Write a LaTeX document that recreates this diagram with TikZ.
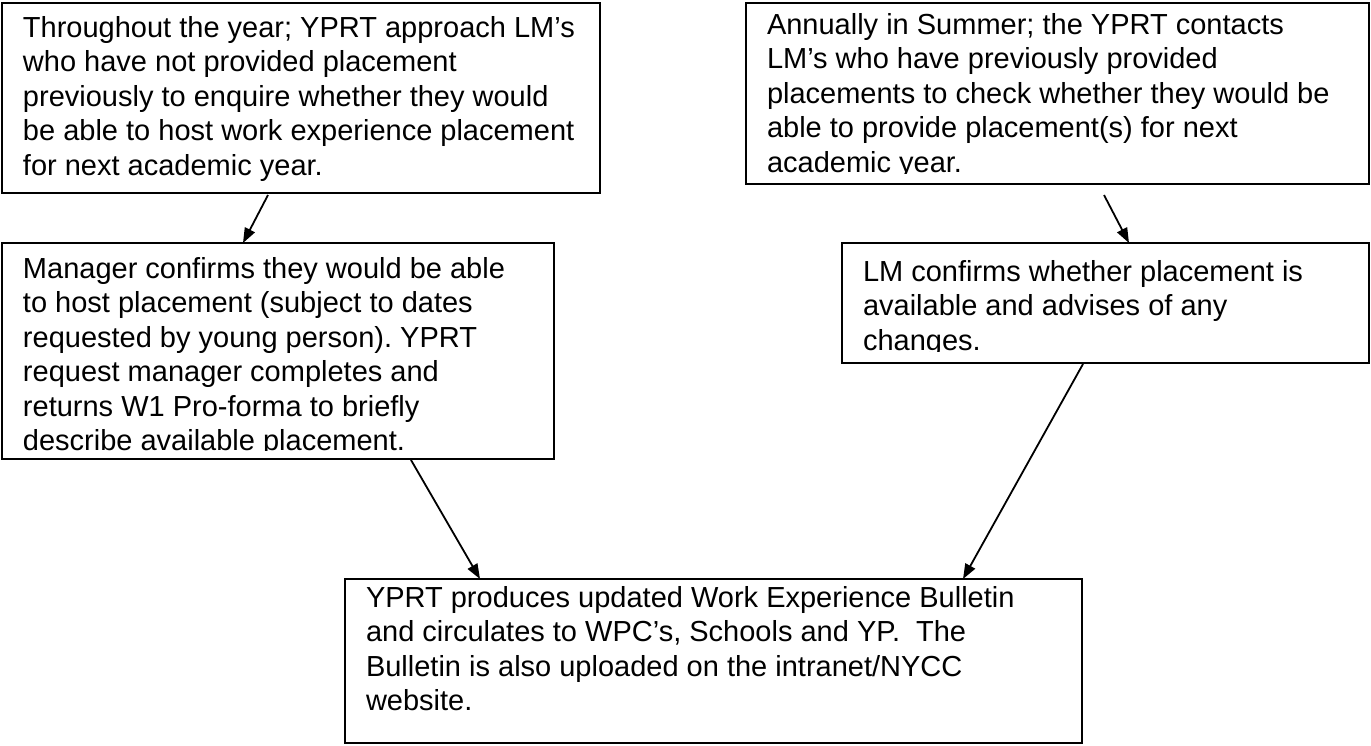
\documentclass[tikz,border=0pt]{standalone}
\usepackage{fontspec}
\setmainfont{Liberation Sans}
\usetikzlibrary{arrows.meta}
\frenchspacing
\tikzset{
  boxnode/.style={draw=black, line width=2.2pt, inner sep=0pt, outer sep=0pt, anchor=north west},
  txt/.style={inner sep=0pt, outer sep=0pt, anchor=north west, align=left, font=\fontsize{29}{34.5}\selectfont\frenchspacing},
  arr/.style={line width=1.8pt, -{Triangle[length=15pt,width=11pt]}},
}
\begin{document}
\begin{tikzpicture}[x=1pt,y=-1pt]
\useasboundingbox (0,0) rectangle (1371,745);
% texts
\node[txt] (t1) at (23,12.85) {\strut Throughout the year; YPRT approach LM’s\\who have not provided placement\\previously to enquire whether they would\\be able to host work experience placement\\for next academic year.};
\begin{scope}
\clip (746,3) rectangle (1369,173);
\node[txt] (t2) at (767,9.85) {\strut Annually in Summer; the YPRT contacts\\LM’s who have previously provided\\placements to check whether they would be\\able to provide placement(s) for next\\academic year.};
\end{scope}
\begin{scope}
\clip (2,243) rectangle (554,450);
\node[txt] (t3) at (23,253.85) {\strut Manager confirms they would be able\\to host placement (subject to dates\\requested by young person). YPRT\\request manager completes and\\returns W1 Pro-forma to briefly\\describe available placement.};
\end{scope}
\begin{scope}
\clip (842,243) rectangle (1369,351);
\node[txt] (t4) at (863,256.85) {\strut LM confirms whether placement is\\available and advises of any\\changes.};
\end{scope}
\node[txt] (t5) at (366,582.85) {\strut YPRT produces updated Work Experience Bulletin\\and circulates to WPC’s, Schools and YP.\ \ The\\Bulletin is also uploaded on the intranet/NYCC\\website.};
% boxes
\node[boxnode, minimum width=598pt, minimum height=190pt] (b1) at (2,3) {};
\node[boxnode, minimum width=623pt, minimum height=181pt] (b2) at (746,3) {};
\node[boxnode, minimum width=552pt, minimum height=216pt] (b3) at (2,243) {};
\node[boxnode, minimum width=527pt, minimum height=120pt] (b4) at (842,243) {};
\node[boxnode, minimum width=737pt, minimum height=164pt] (b5) at (345,579) {};
% connectors
\draw[arr] ([xshift=266pt,yshift=-2pt]b1.south west) -- ([xshift=241pt]b3.north west);
\draw[arr] ([xshift=358pt,yshift=-11pt]b2.south west) -- ([xshift=287pt]b4.north west);
\draw[arr] ([xshift=409pt,yshift=-1pt]b3.south west) -- ([xshift=135pt]b5.north west);
\draw[arr] ([xshift=241pt,yshift=-1pt]b4.south west) -- ([xshift=618pt]b5.north west);
\end{tikzpicture}
\end{document}
